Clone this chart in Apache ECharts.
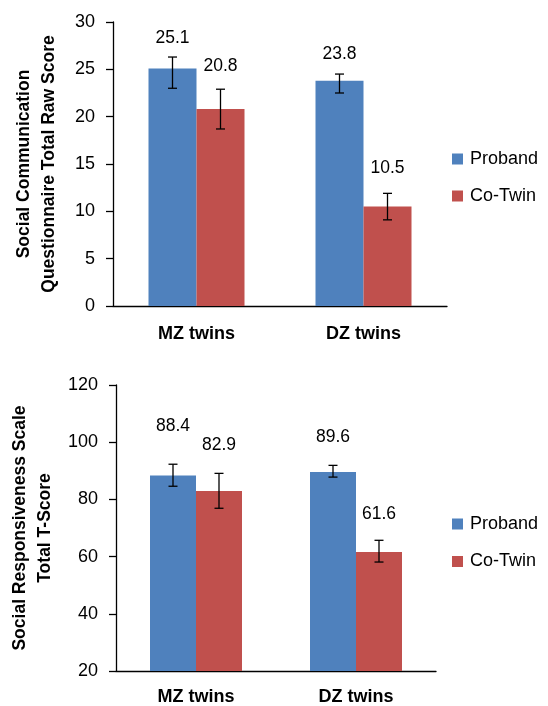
<!DOCTYPE html>
<html><head><meta charset="utf-8">
<script src="https://cdn.jsdelivr.net/npm/echarts@6/dist/echarts.min.js"></script>
<style>html,body{margin:0;padding:0;background:#fff}#c{width:548px;height:706px}</style>
</head><body><div id="c"></div>
<script>
// ---- data ----
const categories = ['MZ twins', 'DZ twins'];
const seriesNames = ['Proband', 'Co-Twin'];

// Social Communication Questionnaire (top chart)
const scqProband = [25.1, 23.8];
const scqCoTwin = [20.8, 10.5];
const scqProbandLow = [23.0, 22.5];
const scqProbandHigh = [26.3, 24.5];
const scqCoTwinLow = [18.7, 9.1];
const scqCoTwinHigh = [22.9, 11.9];

// Social Responsiveness Scale (bottom chart)
const srsProband = [88.4, 89.6];
const srsCoTwin = [82.9, 61.6];
const srsProbandLow = [84.6, 87.8];
const srsProbandHigh = [92.3, 91.9];
const srsCoTwinLow = [76.9, 58.1];
const srsCoTwinHigh = [89.1, 65.7];

const scqAxisName = 'Social Communication\nQuestionnaire Total Raw Score';
const srsAxisName = 'Social Responsiveness Scale\nTotal T-Score';

// ---- styling ----
const FONT = '"Liberation Sans", Arial, sans-serif';
const BLUE = '#4F81BD', RED = '#C0504D';
const topBW = 48, botBW = 46;
const labelGap = { scqP: [19, 20], scqC: [23, 25], srsP: [38, 28], srsC: [28, 26] };

function errSeries(name, idx, vals, lows, highs, side, bw, gaps) {
  return {
    type: 'custom', name: name, xAxisIndex: idx, yAxisIndex: idx, z: 10,
    data: vals.map((v, i) => [i, v, lows[i], highs[i]]),
    encode: { x: 0, y: [1, 2, 3] },
    renderItem: function (params, api) {
      const i = api.value(0);
      const c = api.coord([i, api.value(1)]);
      const x = c[0] + side * bw / 2;
      const yl = api.coord([i, api.value(2)])[1];
      const yh = api.coord([i, api.value(3)])[1];
      const cap = 4.5;
      const st = { stroke: '#000', lineWidth: 1.3 };
      return { type: 'group', children: [
        { type: 'line', shape: { x1: x, y1: yh, x2: x, y2: yl }, style: st },
        { type: 'line', shape: { x1: x - cap, y1: yh, x2: x + cap, y2: yh }, style: st },
        { type: 'line', shape: { x1: x - cap, y1: yl, x2: x + cap, y2: yl }, style: st },
        { type: 'text', style: { text: api.value(1).toFixed(1), x: x, y: yh - gaps[params.dataIndex],
            align: 'center', verticalAlign: 'middle', fontSize: 17.5, fontFamily: FONT, fill: '#000' } }
      ] };
    }
  };
}

function xAx(idx, margin) {
  return {
    type: 'category', gridIndex: idx, data: categories,
    axisLine: { lineStyle: { color: '#000', width: 1.3 } },
    axisTick: { length: 6, lineStyle: { color: '#000', width: 1.3 } },
    axisLabel: { fontSize: 18, fontWeight: 'bold', color: '#000', fontFamily: FONT, margin: margin }
  };
}
function yAx(idx, min, max, interval, name, gap) {
  return {
    type: 'value', gridIndex: idx, min: min, max: max, interval: interval,
    name: name, nameLocation: 'middle', nameRotate: 90, nameGap: gap,
    nameTextStyle: { fontSize: 17.5, fontWeight: 'bold', color: '#000', fontFamily: FONT, lineHeight: 24.5 },
    axisLine: { show: true, lineStyle: { color: '#000', width: 1.3 } },
    axisTick: { show: true, length: 7, lineStyle: { color: '#000', width: 1.3 } },
    axisLabel: { fontSize: 18, color: '#000', fontFamily: FONT, margin: 18 },
    splitLine: { show: false }
  };
}
function legend(top, gap) {
  return {
    data: seriesNames, orient: 'vertical', left: 447, top: top, itemGap: gap,
    itemWidth: 11, itemHeight: 11, icon: 'rect',
    textStyle: { fontSize: 18, color: '#000', fontFamily: FONT, padding: [0, 0, 0, 2] }
  };
}

const chart = echarts.init(document.getElementById('c'), null, { renderer: 'canvas' });
chart.setOption({
  animation: false,
  grid: [
    { left: 113, top: 22, width: 334, height: 284 },
    { left: 113, top: 385, width: 323, height: 286 }
  ],
  legend: [legend(145, 19), legend(510, 19.5)],
  xAxis: [xAx(0, 19), xAx(1, 17)],
  yAxis: [yAx(0, 0, 30, 5, scqAxisName, 52), yAx(1, 20, 120, 20, srsAxisName, 59)],
  series: [
    { type: 'bar', name: seriesNames[0], xAxisIndex: 0, yAxisIndex: 0, data: scqProband, barWidth: topBW, barGap: '0%', itemStyle: { color: BLUE } },
    { type: 'bar', name: seriesNames[1], xAxisIndex: 0, yAxisIndex: 0, data: scqCoTwin, barWidth: topBW, barGap: '0%', itemStyle: { color: RED } },
    { type: 'bar', name: seriesNames[0], xAxisIndex: 1, yAxisIndex: 1, data: srsProband, barWidth: botBW, barGap: '0%', itemStyle: { color: BLUE } },
    { type: 'bar', name: seriesNames[1], xAxisIndex: 1, yAxisIndex: 1, data: srsCoTwin, barWidth: botBW, barGap: '0%', itemStyle: { color: RED } },
    errSeries('scqPErr', 0, scqProband, scqProbandLow, scqProbandHigh, -1, topBW, labelGap.scqP),
    errSeries('scqCErr', 0, scqCoTwin, scqCoTwinLow, scqCoTwinHigh, 1, topBW, labelGap.scqC),
    errSeries('srsPErr', 1, srsProband, srsProbandLow, srsProbandHigh, -1, botBW, labelGap.srsP),
    errSeries('srsCErr', 1, srsCoTwin, srsCoTwinLow, srsCoTwinHigh, 1, botBW, labelGap.srsC)
  ]
});
</script></body></html>
